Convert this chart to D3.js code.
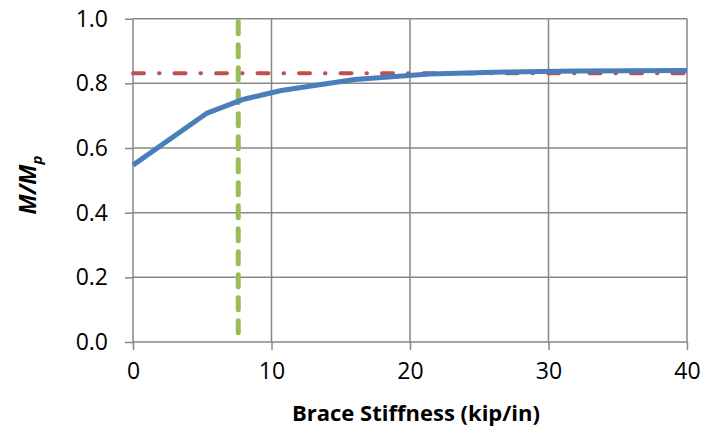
<!DOCTYPE html>
<html>
<head>
<meta charset="utf-8">
<script src="https://cdn.jsdelivr.net/npm/d3@7"></script>
<style>
  body { margin: 0; background: #fff; }
  text { font-family: "Open Sans", sans-serif; fill: #000; }
</style>
</head>
<body>
<script>
'use strict';

// brace stiffness (kip/in) vs M/Mp
const stiffness = [0, 5.3, 8.0, 10.7, 16, 21.4, 26.8, 32.1, 40];
const momentRatio = [0.547, 0.707, 0.751, 0.778, 0.812, 0.829, 0.835, 0.838, 0.840];

// reference levels
const plateauRatio = [0.831];
const idealStiffness = [7.6];

const xTicks = [0, 10, 20, 30, 40];
const yTicks = [0, 0.2, 0.4, 0.6, 0.8, 1.0];

(function() {
  const width = 701, height = 430;
  const plotLeft = 133, plotRight = 687, plotTop = 18.7, plotBottom = 342;

  const svg = d3.select('body').append('svg')
    .attr('width', width)
    .attr('height', height);

  const xScale = d3.scaleLinear().domain([0, 40]).range([plotLeft, plotRight]);
  const yScale = d3.scaleLinear().domain([0, 1]).range([plotBottom, plotTop]);

  const gridColor = '#878787';

  // gridlines
  svg.append('g').selectAll('line')
    .data(yTicks.filter(d => d > 0))
    .enter().append('line')
      .attr('x1', plotLeft).attr('x2', plotRight)
      .attr('y1', d => yScale(d)).attr('y2', d => yScale(d))
      .attr('stroke', gridColor).attr('stroke-width', 1.5);

  svg.append('g').selectAll('line')
    .data(xTicks.filter(d => d > 0))
    .enter().append('line')
      .attr('y1', plotTop).attr('y2', plotBottom)
      .attr('x1', d => xScale(d)).attr('x2', d => xScale(d))
      .attr('stroke', gridColor).attr('stroke-width', 1.5);

  // axes
  let xAxis = d3.axisBottom(xScale).tickValues(xTicks).tickSize(8).tickPadding(13)
    .tickFormat(d3.format('d'));
  let gx = svg.append('g').attr('transform', `translate(0, ${plotBottom})`).call(xAxis);

  let yAxis = d3.axisLeft(yScale).tickValues(yTicks).tickSize(8).tickPadding(17)
    .tickFormat(d3.format('.1f'));
  let gy = svg.append('g').attr('transform', `translate(${plotLeft}, 0)`).call(yAxis);

  [gx, gy].forEach(g => {
    g.select('.domain').attr('stroke', gridColor).attr('stroke-width', 1.5);
    g.selectAll('.tick line').attr('stroke', gridColor).attr('stroke-width', 1.5);
    g.selectAll('.tick text')
      .style('font-family', '"Open Sans", sans-serif')
      .style('font-size', '23px')
      .attr('fill', '#000');
  });
  gx.select('.domain').attr('d', `M${plotLeft},0H${plotRight}`);
  gy.select('.domain').attr('d', `M0,${plotBottom}V${plotTop}`);

  // red dash-dot plateau line
  svg.append('g').selectAll('line')
    .data(plateauRatio)
    .enter().append('line')
      .attr('x1', xScale(0)).attr('x2', xScale(40))
      .attr('y1', d => yScale(d)).attr('y2', d => yScale(d))
      .attr('stroke', '#c0504d').attr('stroke-width', 4)
      .attr('stroke-dasharray', '11 15 0.5 15')
      .attr('stroke-linecap', 'round');

  // green dashed vertical line
  svg.append('g').selectAll('line')
    .data(idealStiffness)
    .enter().append('line')
      .attr('x1', d => xScale(d)).attr('x2', d => xScale(d))
      .attr('y1', yScale(1)).attr('y2', yScale(0))
      .attr('stroke', '#9bbb59').attr('stroke-width', 5)
      .attr('stroke-dasharray', '12 11')
      .attr('stroke-dashoffset', -3)
      .attr('stroke-linecap', 'round');

  // blue curve (straight segments between the computed points)
  const line = d3.line()
    .x((d, i) => xScale(stiffness[i]))
    .y(d => yScale(d));

  svg.append('path')
    .datum(momentRatio)
    .attr('d', line)
    .attr('fill', 'none')
    .attr('stroke', '#4a7ebb')
    .attr('stroke-width', 5)
    .attr('stroke-linejoin', 'round');

  // axis titles
  svg.append('text')
    .attr('x', 416)
    .attr('y', 421)
    .attr('text-anchor', 'middle')
    .style('font-size', '22px')
    .style('font-weight', 'bold')
    .text('Brace Stiffness (kip/in)');

  const yTitle = svg.append('text')
    .attr('transform', `translate(36, 185) rotate(-90)`)
    .attr('text-anchor', 'middle')
    .style('font-size', '23px')
    .style('font-weight', 'bold')
    .style('font-style', 'italic');
  yTitle.append('tspan').text('M/M');
  yTitle.append('tspan').attr('dy', 6).style('font-size', '15px').text('p');
})();
</script>
</body>
</html>
